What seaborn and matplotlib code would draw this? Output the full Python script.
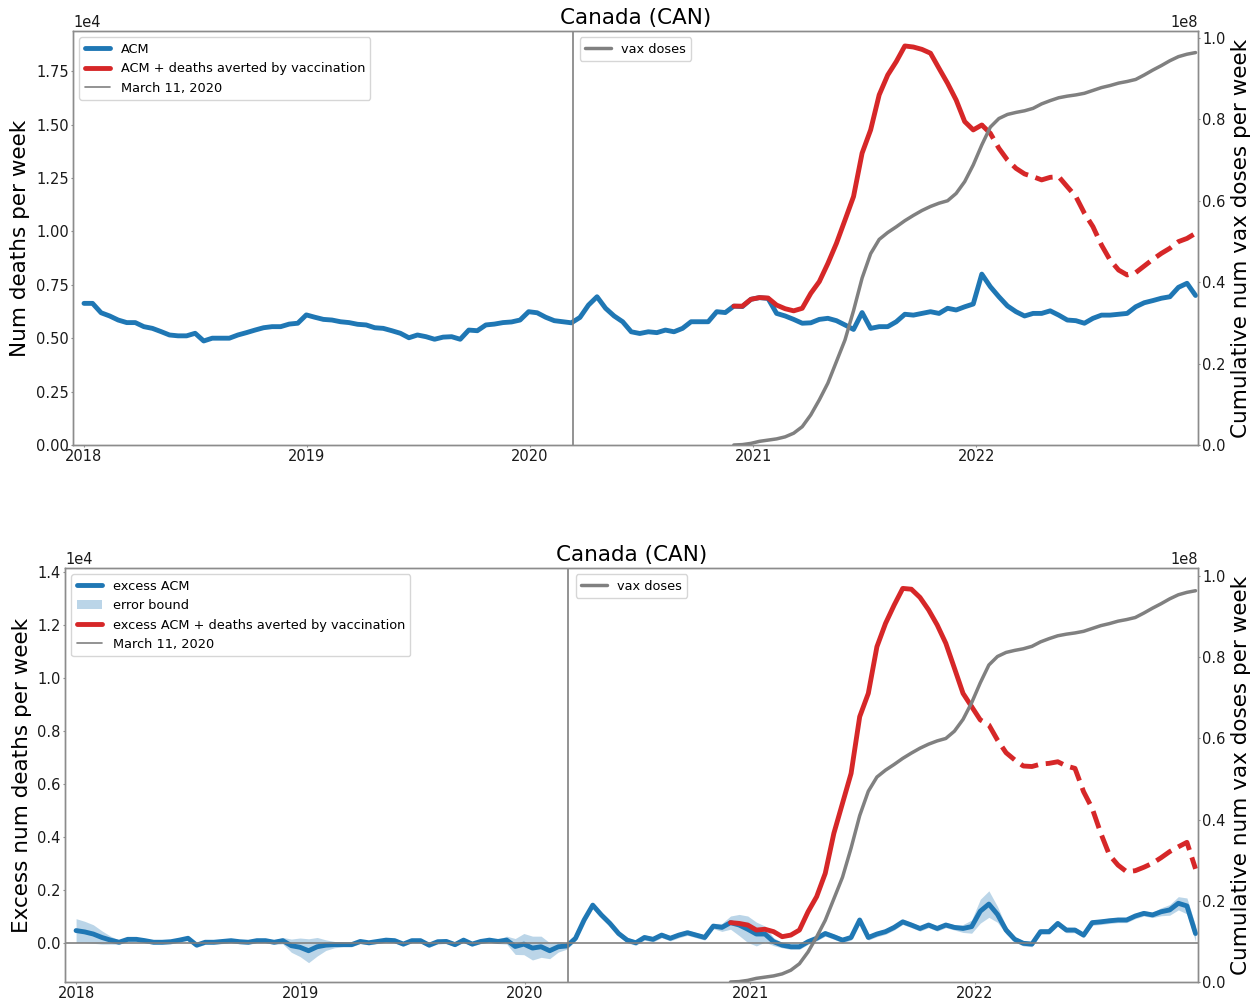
import numpy as np
import pandas as pd
import matplotlib
matplotlib.use("Agg")
import matplotlib.pyplot as plt
import matplotlib.dates as mdates
from matplotlib.lines import Line2D
from matplotlib.patches import Patch
import seaborn as sns

# ---------------- data (sampled every 14 days from 2018-01-01) ----------------
START = "2018-01-01"
STEP = "14D"
DEATH_UNIT = 1e4
VAX_UNIT = 1e8

# all-cause mortality per week (x1e4)
acm = [0.663, 0.663, 0.619, 0.604, 0.585, 0.573, 0.573, 0.554, 0.546, 0.531,
       0.515, 0.511, 0.511, 0.523, 0.487, 0.500, 0.500, 0.500, 0.515, 0.526,
       0.538, 0.549, 0.554, 0.554, 0.566, 0.570, 0.609, 0.598, 0.588, 0.585,
       0.577, 0.573, 0.565, 0.562, 0.549, 0.546, 0.535, 0.523, 0.502, 0.515,
       0.507, 0.495, 0.505, 0.507, 0.495, 0.538, 0.535, 0.562, 0.566, 0.573,
       0.576, 0.585, 0.624, 0.619, 0.598, 0.582, 0.577, 0.572, 0.597, 0.655,
       0.694, 0.640, 0.604, 0.577, 0.530, 0.522, 0.530, 0.526, 0.538, 0.530,
       0.546, 0.577, 0.577, 0.577, 0.624, 0.620, 0.650, 0.648, 0.682, 0.690,
       0.686, 0.616, 0.604, 0.588, 0.570, 0.572, 0.588, 0.593, 0.582, 0.562,
       0.541, 0.620, 0.546, 0.554, 0.554, 0.577, 0.612, 0.608, 0.616, 0.624,
       0.616, 0.640, 0.632, 0.647, 0.660, 0.800, 0.741, 0.694, 0.651, 0.624,
       0.604, 0.616, 0.616, 0.628, 0.608, 0.585, 0.582, 0.570, 0.593, 0.608,
       0.608, 0.612, 0.616, 0.647, 0.666, 0.676, 0.687, 0.694, 0.738, 0.757,
       0.700]

# excess ACM per week (x1e4)
excess = [0.047, 0.042, 0.034, 0.021, 0.011, 0.003, 0.014, 0.014, 0.009, 0.003,
          0.003, 0.005, 0.011, 0.018, -0.008, 0.003, 0.003, 0.006, 0.009, 0.005,
          0.003, 0.009, 0.009, 0.003, 0.009, -0.010, -0.016, -0.029, -0.014, -0.008,
          -0.006, -0.006, -0.006, 0.006, 0.001, 0.006, 0.011, 0.009, -0.004, 0.009,
          0.009, -0.008, 0.005, 0.006, -0.006, 0.011, -0.004, 0.006, 0.011, 0.006,
          0.011, -0.013, -0.004, -0.019, -0.014, -0.029, -0.014, -0.011, 0.018, 0.087,
          0.143, 0.106, 0.074, 0.036, 0.011, 0.001, 0.021, 0.014, 0.030, 0.018,
          0.030, 0.039, 0.030, 0.021, 0.064, 0.059, 0.077, 0.068, 0.052, 0.034,
          0.034, 0.005, -0.008, -0.014, -0.014, 0.005, 0.018, 0.036, 0.024, 0.011,
          0.021, 0.087, 0.021, 0.034, 0.043, 0.059, 0.080, 0.068, 0.055, 0.068,
          0.055, 0.068, 0.059, 0.055, 0.062, 0.120, 0.147, 0.108, 0.049, 0.014,
          -0.001, -0.004, 0.043, 0.043, 0.074, 0.049, 0.049, 0.030, 0.077, 0.080,
          0.084, 0.087, 0.087, 0.102, 0.112, 0.106, 0.118, 0.125, 0.150, 0.140,
          0.036]

# half-width of the excess error bound (x1e4)
err = [0.045, 0.040, 0.035, 0.025, 0.015, 0.008, 0.008, 0.008, 0.008, 0.008,
       0.008, 0.008, 0.008, 0.008, 0.008, 0.008, 0.008, 0.008, 0.008, 0.008,
       0.008, 0.008, 0.008, 0.008, 0.012, 0.025, 0.035, 0.045, 0.035, 0.020,
       0.012, 0.008, 0.008, 0.008, 0.008, 0.008, 0.008, 0.008, 0.008, 0.008,
       0.008, 0.008, 0.008, 0.008, 0.008, 0.008, 0.008, 0.008, 0.008, 0.008,
       0.015, 0.030, 0.040, 0.045, 0.040, 0.030, 0.020, 0.012, 0.010, 0.010,
       0.010, 0.010, 0.010, 0.010, 0.010, 0.010, 0.010, 0.010, 0.010, 0.010,
       0.010, 0.010, 0.010, 0.010, 0.010, 0.015, 0.025, 0.040, 0.050, 0.045,
       0.030, 0.015, 0.010, 0.010, 0.010, 0.010, 0.010, 0.010, 0.010, 0.010,
       0.010, 0.010, 0.010, 0.010, 0.010, 0.010, 0.010, 0.010, 0.010, 0.010,
       0.010, 0.010, 0.010, 0.015, 0.025, 0.045, 0.050, 0.030, 0.015, 0.010,
       0.010, 0.010, 0.010, 0.010, 0.010, 0.010, 0.010, 0.010, 0.010, 0.010,
       0.010, 0.010, 0.010, 0.010, 0.010, 0.010, 0.015, 0.020, 0.025, 0.030,
       0.030]

VAX_START = 76  # index of first sample of the vaccination-era series

# ACM + deaths averted by vaccination (x1e4), from VAX_START
acm_averted = [0.650, 0.650, 0.682, 0.690, 0.688, 0.655, 0.638, 0.628, 0.640, 0.710,
               0.765, 0.850, 0.944, 1.053, 1.163, 1.366, 1.475, 1.639, 1.732, 1.795,
               1.868, 1.863, 1.852, 1.834, 1.763, 1.693, 1.615, 1.514, 1.475, 1.498,
               1.459, 1.389, 1.334, 1.295, 1.269, 1.256, 1.241, 1.253, 1.256, 1.209,
               1.163, 1.085, 1.022, 0.936, 0.866, 0.819, 0.796, 0.807, 0.838, 0.869,
               0.897, 0.921, 0.952, 0.967, 0.991]

# excess ACM + deaths averted by vaccination (x1e4), from VAX_START
excess_averted = [0.077, 0.074, 0.068, 0.049, 0.052, 0.043, 0.024, 0.030, 0.049, 0.118,
                  0.175, 0.263, 0.414, 0.527, 0.640, 0.854, 0.942, 1.118, 1.206, 1.275,
                  1.338, 1.335, 1.304, 1.257, 1.200, 1.131, 1.037, 0.942, 0.892, 0.842,
                  0.823, 0.766, 0.718, 0.691, 0.668, 0.666, 0.675, 0.678, 0.684, 0.668,
                  0.659, 0.571, 0.508, 0.414, 0.332, 0.294, 0.269, 0.273, 0.286, 0.301,
                  0.322, 0.345, 0.363, 0.380, 0.280]

# cumulative vaccine doses (x1e8), from VAX_START
vax = [0.000, 0.001, 0.004, 0.009, 0.012, 0.015, 0.020, 0.029, 0.045, 0.074,
       0.111, 0.152, 0.205, 0.258, 0.330, 0.410, 0.470, 0.505, 0.522, 0.536,
       0.551, 0.564, 0.576, 0.586, 0.594, 0.600, 0.618, 0.647, 0.688, 0.737,
       0.781, 0.802, 0.812, 0.817, 0.821, 0.827, 0.838, 0.846, 0.853, 0.857,
       0.860, 0.864, 0.871, 0.878, 0.883, 0.889, 0.893, 0.898, 0.909, 0.921,
       0.932, 0.944, 0.954, 0.960, 0.964]

DASH_FROM_TOP = 105   # sample where the projection becomes dashed (top)
DASH_FROM_BOT = 104   # (bottom)
MARCH11 = "2020-03-11"
TITLE = "Canada (CAN)"

# ---------------- tables ----------------
dates = pd.date_range(START, periods=len(acm), freq=STEP)
df = pd.DataFrame({
    "date": dates,
    "acm": np.array(acm) * DEATH_UNIT,
    "excess": np.array(excess) * DEATH_UNIT,
    "lo": (np.array(excess) - np.array(err)) * DEATH_UNIT,
    "hi": (np.array(excess) + np.array(err)) * DEATH_UNIT,
})
dv = pd.DataFrame({
    "date": dates[VAX_START:],
    "acm_av": np.array(acm_averted) * DEATH_UNIT,
    "exc_av": np.array(excess_averted) * DEATH_UNIT,
    "vax": np.array(vax) * VAX_UNIT,
})

# ---------------- style ----------------
sns.set_theme(style="ticks")
plt.rcParams.update({
    "font.family": ["DejaVu Sans"],
    "text.color": "black",
    "axes.labelcolor": "black",
    "axes.edgecolor": "0.55",
    "xtick.color": "0.55",
    "ytick.color": "0.55",
    "xtick.labelcolor": "0.1",
    "ytick.labelcolor": "0.1",
    "xtick.labelsize": 10.5,
    "ytick.labelsize": 10.5,
    "xtick.major.size": 1.5,
    "ytick.major.size": 1.5,
    "xtick.major.pad": 1.5,
    "ytick.major.pad": 1.5,
    "xtick.major.width": 0.8,
    "ytick.major.width": 0.8,
    "axes.linewidth": 1.0,
})

BLUE = "#1f77b4"
RED = "#d62728"
GRAY = "gray"
LW = 3.5
LEG_FS = 9.3

fig = plt.figure(figsize=(12.56, 10.02), dpi=100)
ax_top = fig.add_axes([73 / 1256, 1 - 445 / 1002, 1125 / 1256, 414 / 1002])
ax_bot = fig.add_axes([65 / 1256, 1 - 982 / 1002, 1133 / 1256, 414 / 1002])


def draw_panel(ax, main_col, av_col, dash_from, ylabel, band, ylim_left, ylim_right, labels):
    ax2 = ax.twinx()
    if band:
        ax.fill_between(df["date"], df["lo"], df["hi"], color=BLUE, alpha=0.3, lw=0)
    sns.lineplot(data=df, x="date", y=main_col, ax=ax, color=BLUE, lw=LW, legend=False)
    k = dash_from - VAX_START
    sns.lineplot(data=dv.iloc[:k + 1], x="date", y=av_col, ax=ax, color=RED, lw=LW, legend=False)
    sns.lineplot(data=dv.iloc[k:], x="date", y=av_col, ax=ax, color=RED, lw=LW,
                 linestyle="--", legend=False)
    ax.axvline(pd.Timestamp(MARCH11), color=GRAY, lw=1.2)
    if band:
        ax.axhline(0, color=GRAY, lw=1.2)
    sns.lineplot(data=dv, x="date", y="vax", ax=ax2, color=GRAY, lw=2.5, legend=False)

    ax.set_xlim(pd.Timestamp("2017-12-14"), pd.Timestamp("2022-12-30"))
    ax.set_ylim(*ylim_left)
    ax2.set_ylim(*ylim_right)
    ax.xaxis.set_major_locator(mdates.YearLocator())
    ax.xaxis.set_major_formatter(mdates.DateFormatter("%Y"))
    ax.ticklabel_format(axis="y", style="sci", scilimits=(0, 0))
    ax2.ticklabel_format(axis="y", style="sci", scilimits=(0, 0))
    ax.yaxis.get_offset_text().set_fontsize(10.5)
    ax2.yaxis.get_offset_text().set_fontsize(10.5)
    ax.set_xlabel("")
    ax.set_ylabel(ylabel, fontsize=15.5, labelpad=4)
    ax2.set_ylabel("Cumulative num vax doses per week", fontsize=15.5, labelpad=4)
    ax.set_title(TITLE, fontsize=15.5, pad=5)

    handles = [Line2D([], [], color=BLUE, lw=LW, label=labels[0])]
    if band:
        handles.append(Patch(facecolor=BLUE, alpha=0.3, edgecolor="none", label="error bound"))
    handles.append(Line2D([], [], color=RED, lw=LW, label=labels[1]))
    handles.append(Line2D([], [], color=GRAY, lw=1.2, label="March 11, 2020"))
    ax.legend(handles=handles, loc="upper left", fontsize=LEG_FS)
    ax2.legend(handles=[Line2D([], [], color=GRAY, lw=2.5, label="vax doses")],
               loc="upper center", fontsize=LEG_FS)


draw_panel(ax_top, "acm", "acm_av", DASH_FROM_TOP, "Num deaths per week", False,
           (0, 19380), (0, 1.017e8), ["ACM", "ACM + deaths averted by vaccination"])
draw_panel(ax_bot, "excess", "exc_av", DASH_FROM_BOT, "Excess num deaths per week", True,
           (-1470, 14150), (0, 1.02e8),
           ["excess ACM", "excess ACM + deaths averted by vaccination"])

fig.savefig("out.png", dpi=100)
